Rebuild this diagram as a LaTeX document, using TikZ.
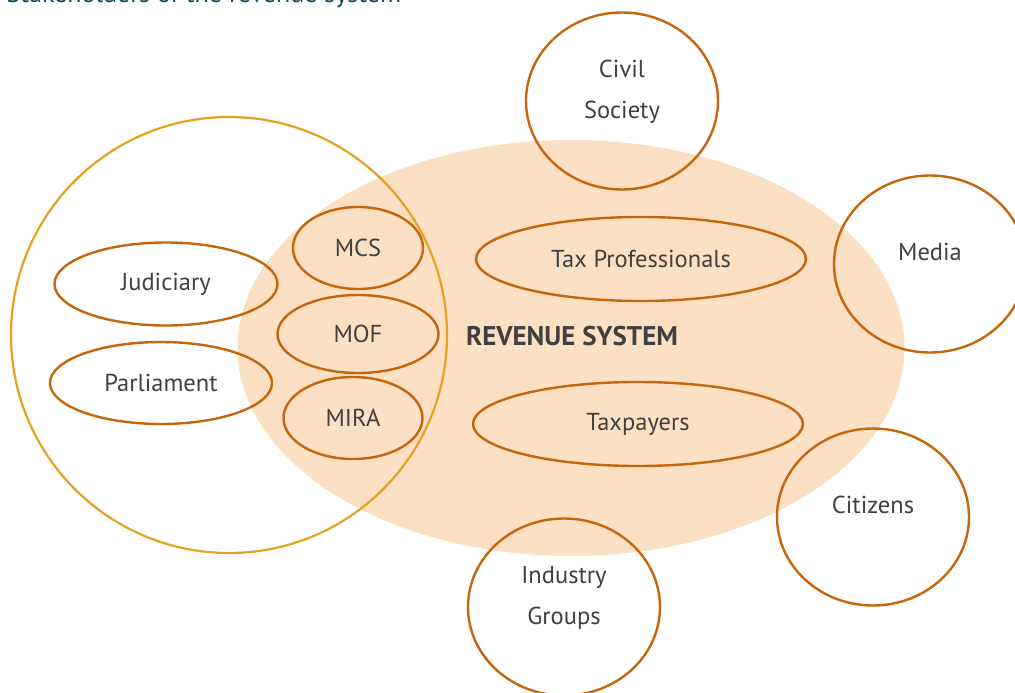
\documentclass[tikz,border=0pt]{standalone}
\usepackage{fontspec}
\setmainfont{PT Sans}
\usetikzlibrary{shapes.geometric}
\definecolor{peach}{RGB}{252,224,196}
\definecolor{rim}{RGB}{199,101,12}
\definecolor{gold}{RGB}{232,160,32}
\definecolor{ink}{RGB}{64,64,64}
\definecolor{teal}{RGB}{11,79,92}
\begin{document}
\begin{tikzpicture}[x=1pt,y=-1pt,
    every node/.style={font=\fontsize{24.5}{41}\selectfont, text=ink},
    member/.style={ellipse, draw=rim, line width=2.4pt, inner sep=0pt},
    outer/.style={member, minimum width=192pt, minimum height=177pt},
    lab/.style={yshift=12pt, align=center},
    lab2/.style={yshift=9pt, align=center}]
    \clip (0,0) rectangle (1015,693);
    \useasboundingbox (0,0) rectangle (1015,693);
    \node[anchor=base west, text=teal, font=\fontsize{26}{30}\selectfont] (title) at (3,3) {Stakeholders of the revenue system};
    % revenue system and government
    \node[ellipse, fill=peach, minimum width=667pt, minimum height=416pt] (system) at (571,348) {};
    \node[circle, draw=gold, line width=2.2pt, minimum size=436pt] (govt) at (229,335) {};
    \node[font=\fontsize{27}{30}\selectfont\bfseries] (name) at (572,336) {REVENUE SYSTEM};
    % inside
    \node[member, minimum width=130pt, minimum height=82pt] (mcs) at (358,248) {MCS};
    \node[member, minimum width=161pt, minimum height=78pt] (mof) at (358,334) {MOF};
    \node[member, minimum width=139pt, minimum height=82pt] (mira) at (353,418) {MIRA};
    \node[member, minimum width=223pt, minimum height=83pt] (judiciary) at (166,284) {Judiciary};
    \node[member, minimum width=222pt, minimum height=82pt] (parliament) at (161,383) {Parliament};
    \node[member, minimum width=330pt, minimum height=84pt] (taxpros) at (641,259) {Tax Professionals};
    \node[member, minimum width=330pt, minimum height=84pt] (taxpayers) at (638,424) {Taxpayers};
    % outside
    \node[outer, label={[lab2]center:Civil\\Society}] (civil) at (622,101) {};
    \node[outer, label={[lab]center:Media}] (media) at (930,264) {};
    \node[outer, label={[lab]center:Citizens}] (citizens) at (873,517) {};
    \node[outer, label={[lab2]center:Industry\\Groups}] (industry) at (564,607) {};
\end{tikzpicture}
\end{document}
